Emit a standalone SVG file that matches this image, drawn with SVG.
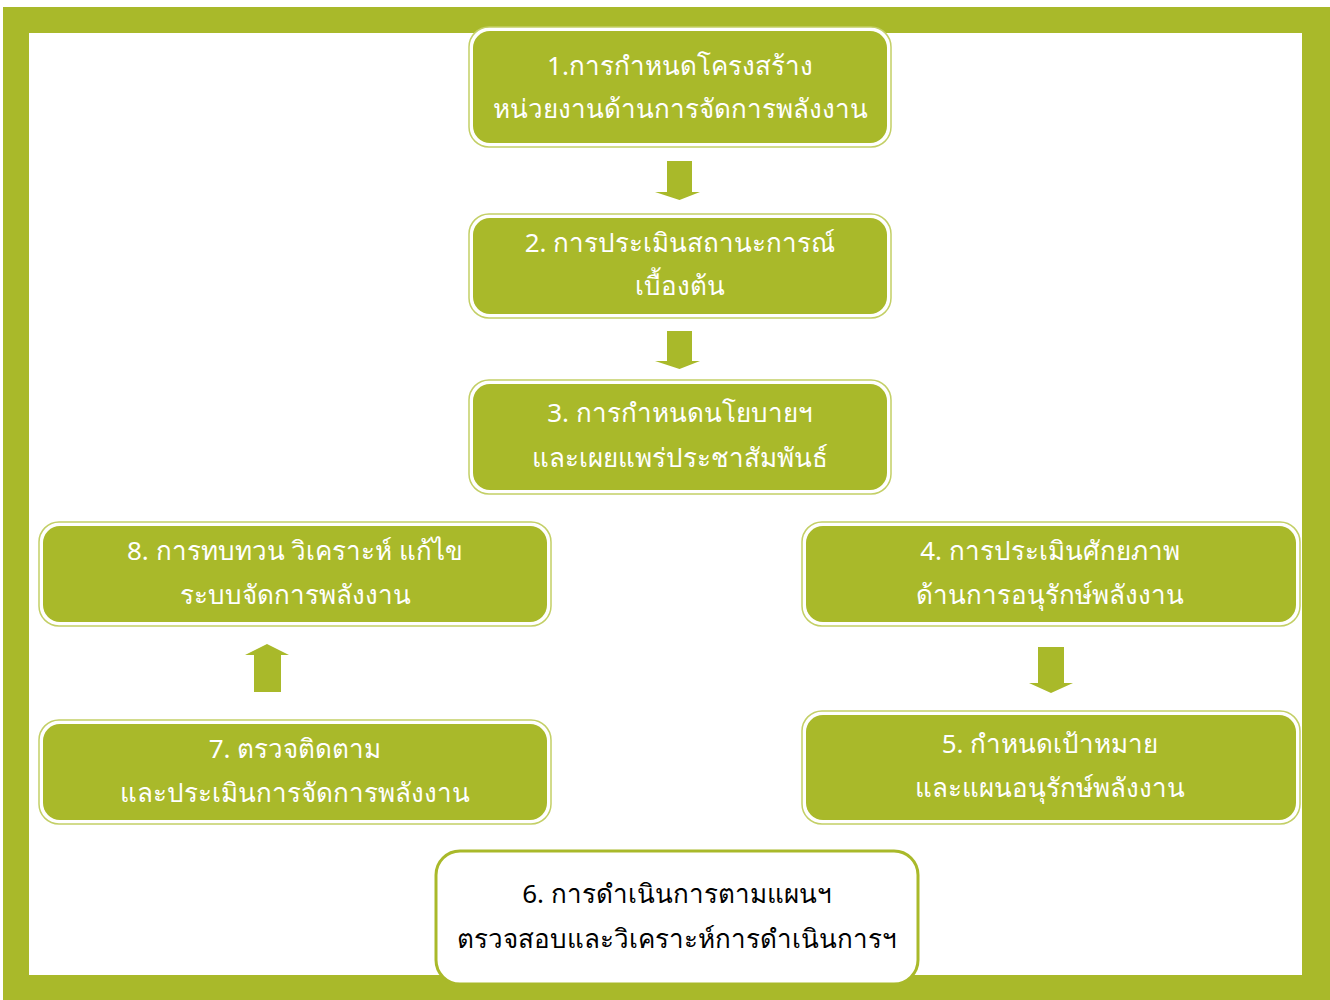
<svg xmlns="http://www.w3.org/2000/svg" width="1330" height="1000" viewBox="0 0 1330 1000">
<style>
.frame{fill:#a9b92a}
.outer{fill:#ffffff;stroke:#c3cf66;stroke-width:1.5}
.inner{fill:#a9b92a}
.t{font-family:"Noto Sans",sans-serif;font-size:26px;fill:#ffffff;text-anchor:middle;dominant-baseline:central}
.t6{font-family:"Noto Sans",sans-serif;font-size:26px;fill:#000000;text-anchor:middle;dominant-baseline:central}
.arrow{fill:#a9b92a}
.b6{fill:#ffffff;stroke:#a9b92a;stroke-width:3}
</style>
<rect x="0" y="0" width="1330" height="1000" fill="#ffffff"/>
<rect class="frame" x="3" y="7" width="1327" height="993"/>
<rect x="29" y="33" width="1273" height="942" fill="#ffffff"/>
<g id="connectors">
<polygon class="arrow" points="667,161 692,161 692,192 700,192 679.5,200 655,192 667,192"/>
<polygon class="arrow" points="667,331 692,331 692,361 700,361 679.5,369 655,361 667,361"/>
<polygon class="arrow" points="1038,647 1064,647 1064,683 1073,683 1051,693 1029,683 1038,683"/>
<polygon class="arrow" points="254,692 281,692 281,655 289,655 267,644 245,655 254,655"/>
</g>
<g id="node1">
<rect class="outer" x="469" y="27" width="422" height="120" rx="20"/>
<rect class="inner" x="473" y="31" width="414" height="112" rx="17"/>
<text class="t" x="680" y="65">1.การกำหนดโครงสร้าง</text>
<text class="t" x="680" y="108">หน่วยงานด้านการจัดการพลังงาน</text>
</g>
<g id="node2">
<rect class="outer" x="469" y="214" width="422" height="104" rx="20"/>
<rect class="inner" x="473" y="218" width="414" height="96" rx="17"/>
<text class="t" x="680" y="242">2. การประเมินสถานะการณ์</text>
<text class="t" x="680" y="285">เบื้องต้น</text>
</g>
<g id="node3">
<rect class="outer" x="469" y="380" width="422" height="114" rx="20"/>
<rect class="inner" x="473" y="384" width="414" height="106" rx="17"/>
<text class="t" x="680" y="412">3. การกำหนดนโยบายฯ</text>
<text class="t" x="680" y="457">และเผยแพร่ประชาสัมพันธ์</text>
</g>
<g id="node8">
<rect class="outer" x="39" y="522" width="512" height="104" rx="20"/>
<rect class="inner" x="43" y="526" width="504" height="96" rx="17"/>
<text class="t" x="295" y="550">8. การทบทวน วิเคราะห์ แก้ไข</text>
<text class="t" x="295" y="594">ระบบจัดการพลังงาน</text>
</g>
<g id="node7">
<rect class="outer" x="39" y="720" width="512" height="104" rx="20"/>
<rect class="inner" x="43" y="724" width="504" height="96" rx="17"/>
<text class="t" x="295" y="748">7. ตรวจติดตาม</text>
<text class="t" x="295" y="792">และประเมินการจัดการพลังงาน</text>
</g>
<g id="node4">
<rect class="outer" x="802" y="522" width="498" height="104" rx="20"/>
<rect class="inner" x="806" y="526" width="490" height="96" rx="17"/>
<text class="t" x="1050" y="550">4. การประเมินศักยภาพ</text>
<text class="t" x="1050" y="594">ด้านการอนุรักษ์พลังงาน</text>
</g>
<g id="node5">
<rect class="outer" x="802" y="711" width="498" height="113" rx="20"/>
<rect class="inner" x="806" y="715" width="490" height="105" rx="17"/>
<text class="t" x="1050" y="743">5. กำหนดเป้าหมาย</text>
<text class="t" x="1050" y="787">และแผนอนุรักษ์พลังงาน</text>
</g>
<g id="node6">
<rect class="b6" x="436" y="851" width="482" height="133" rx="24"/>
<text class="t6" x="677" y="893">6. การดำเนินการตามแผนฯ</text>
<text class="t6" x="677" y="938">ตรวจสอบและวิเคราะห์การดำเนินการฯ</text>
</g>
</svg>
